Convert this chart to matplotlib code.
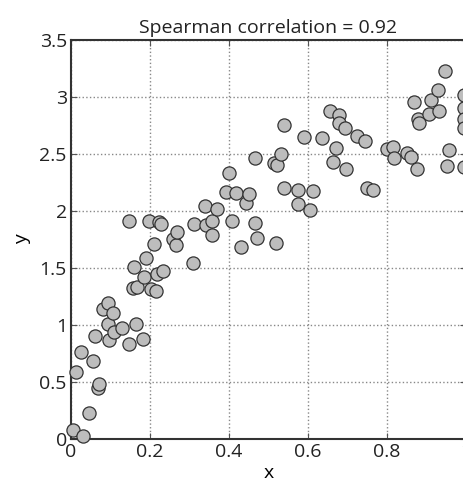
# Scatter of y vs x with Spearman correlation in the title
import numpy as np
import matplotlib.pyplot as plt

plt.rcParams['font.family'] = ['Open Sans', 'DejaVu Sans']
plt.rcParams['text.color'] = '#222222'

x = [0.006, 0.030, 0.013, 0.026, 0.046, 0.055, 0.061, 0.068, 0.071, 0.080,
     0.093, 0.094, 0.096, 0.106, 0.110, 0.128, 0.146, 0.148, 0.157, 0.159,
     0.165, 0.168, 0.183, 0.186, 0.189, 0.197, 0.203, 0.210, 0.214, 0.217,
     0.223, 0.227, 0.234, 0.257, 0.265, 0.268, 0.309, 0.312, 0.339, 0.341,
     0.356, 0.356, 0.369, 0.392, 0.400, 0.407, 0.417, 0.430, 0.442, 0.451,
     0.466, 0.466, 0.470, 0.514, 0.519, 0.522, 0.532, 0.539, 0.539, 0.574,
     0.574, 0.591, 0.606, 0.612, 0.635, 0.655, 0.664, 0.672, 0.679, 0.679,
     0.694, 0.697, 0.725, 0.745, 0.750, 0.765, 0.801, 0.816, 0.818, 0.850,
     0.860, 0.869, 0.875, 0.879, 0.881, 0.907, 0.911, 0.930, 0.932, 0.947,
     0.951, 0.958, 0.996, 0.996, 0.996, 0.996, 0.996]
y = [0.079, 0.026, 0.585, 0.761, 0.225, 0.687, 0.906, 0.450, 0.482, 1.138,
     1.196, 1.006, 0.868, 1.108, 0.936, 0.971, 0.831, 1.912, 1.327, 1.511,
     1.006, 1.333, 0.877, 1.424, 1.585, 1.912, 1.316, 1.708, 1.301, 1.447,
     1.905, 1.891, 1.474, 1.754, 1.702, 1.813, 1.541, 1.889, 2.046, 1.877,
     1.915, 1.789, 2.018, 2.164, 2.331, 1.912, 2.155, 1.687, 2.068, 2.146,
     2.468, 1.897, 1.761, 2.424, 1.722, 2.404, 2.500, 2.754, 2.199, 2.184,
     2.059, 2.646, 2.009, 2.173, 2.638, 2.880, 2.427, 2.550, 2.842, 2.775,
     2.725, 2.366, 2.658, 2.614, 2.199, 2.184, 2.541, 2.564, 2.468, 2.506,
     2.471, 2.959, 2.366, 2.804, 2.769, 2.851, 2.974, 3.061, 2.880, 3.228,
     2.397, 2.535, 3.018, 2.904, 2.804, 2.731, 2.389]

xticks = [0, 0.2, 0.4, 0.6, 0.8, 1]
xticklabels = ['0', '0.2', '0.4', '0.6', '0.8', '1']
yticks = [0, 0.5, 1, 1.5, 2, 2.5, 3, 3.5]
yticklabels = ['0', '0.5', '1', '1.5', '2', '2.5', '3', '3.5']

fig = plt.figure(figsize=(4.63, 4.93), dpi=100)
ax = fig.add_axes([0.1534, 0.1095, 0.853, 0.809])

ax.scatter(x, y, s=90, facecolor='#bdbdbd', edgecolor='#333333',
           linewidth=0.9, zorder=3, clip_on=False)

ax.set_xlim(0, 1)
ax.set_ylim(0, 3.5)
ax.set_xticks(xticks)
ax.set_xticklabels(xticklabels)
ax.set_yticks(yticks)
ax.set_yticklabels(yticklabels)
ax.tick_params(direction='in', length=4, width=0.8, color='#555555',
               labelcolor='#222222', labelsize=14, top=True, right=True, pad=3)
ax.grid(True, linestyle=':', color='#888888', linewidth=1)

for s in ax.spines.values():
    s.set_linewidth(1.5)
    s.set_color('#333333')

ax.set_xlabel('x', fontsize=14, labelpad=2)
ax.set_ylabel('y', fontsize=14, labelpad=6)
ax.set_title('Spearman correlation = 0.92', fontsize=14, pad=5)

plt.savefig('out.png')
